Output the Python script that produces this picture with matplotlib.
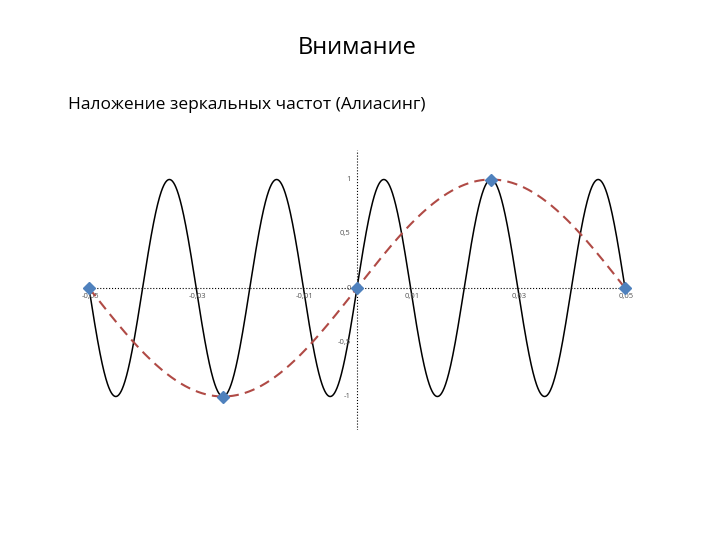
import numpy as np
import matplotlib
matplotlib.use("Agg")
import matplotlib.pyplot as plt

# signal and alias frequencies (Hz)
f_signal = 50
f_alias = 10

# sample points (40 Hz sampling)
t_samples = [-0.05, -0.025, 0.0, 0.025, 0.05]
y_samples = [0, -1, 0, 1, 0]

x_ticks = [-0.05, -0.03, -0.01, 0.01, 0.03, 0.05]
x_tick_labels = ["-0,05", "-0,03", "-0,01", "0,01", "0,03", "0,05"]
y_ticks = [1, 0.5, 0, -0.5, -1]
y_tick_labels = ["1", "0,5", "0", "-0,5", "-1"]

plt.rcParams['font.family'] = ['Open Sans', 'DejaVu Sans']

fig = plt.figure(figsize=(7.2, 5.4), dpi=100)
fig.text(357 / 720, 1 - 48 / 540, "Внимание", ha='center', va='center', fontsize=17)
fig.text(68 / 720, 1 - 105 / 540, "Наложение зеркальных частот (Алиасинг)",
         ha='left', va='center', fontsize=12.5)

# axes placed so that 0 sits at pixel (357, 288)
left, right, top, bottom = 80, 640, 150, 430
ax = fig.add_axes([left / 720, 1 - bottom / 540, (right - left) / 720, (bottom - top) / 540])
ax.set_xlim((left - 357) / 5360, (right - 357) / 5360)
ax.set_ylim((288 - bottom) / 108.5, (288 - top) / 108.5)
ax.axis('off')

t = np.linspace(-0.05, 0.05, 2000)
ax.plot(t, np.sin(2 * np.pi * f_signal * t), color='black', lw=1.1, zorder=3)
ax.plot(t, np.sin(2 * np.pi * f_alias * t), color='#b04a45', lw=1.5,
        ls=(0, (5, 3)), zorder=4)
ax.plot(t_samples, y_samples, ls='none', marker='D', ms=6,
        color='#4f81bd', zorder=5)

# dotted axes through the origin
ax.plot([-0.0508, 0.0508], [0, 0], color='black', lw=0.8, ls=':', zorder=2)
ax.axvline(0, color='black', lw=0.8, ls=':', zorder=2)

for v, lab in zip(x_ticks, x_tick_labels):
    ax.text(v + 0.0003, -0.05, lab, ha='center', va='top', fontsize=5.5, color='#555555')
for v, lab in zip(y_ticks, y_tick_labels):
    ax.text(-0.0012, v, lab, ha='right', va='center', fontsize=5.5, color='#555555')

fig.savefig("out.png", dpi=100)
